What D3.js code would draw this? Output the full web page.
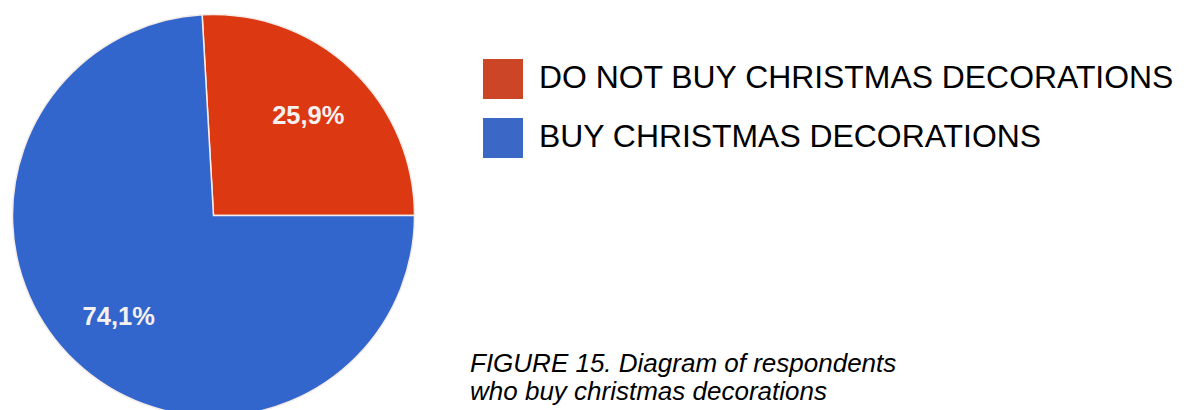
<!DOCTYPE html>
<html>
<head>
<meta charset="utf-8">
<script src="https://cdn.jsdelivr.net/npm/d3@7"></script>
<style>
  html, body { margin: 0; padding: 0; background: #ffffff; }
  svg { display: block; }
</style>
</head>
<body>
<svg id="chart" width="1187" height="410"></svg>
<script>
// ---- data ----
const categories = ["DO NOT BUY CHRISTMAS DECORATIONS", "BUY CHRISTMAS DECORATIONS"];
const values = [25.9, 74.1];
const sliceLabels = ["25,9%", "74,1%"];
const captionLines = ["FIGURE 15. Diagram of respondents", "who buy christmas decorations"];

// ---- styles ----
const pieColors = d3.scaleOrdinal().domain(categories).range(["#dc3912", "#3366cc"]);
const legendColors = d3.scaleOrdinal().domain(categories).range(["#cc4527", "#3b68c6"]);

const svg = d3.select("#chart");
const cx = 213.5, cy = 215.5, r = 201;

// first slice ends at 3 o'clock
const total = d3.sum(values);
const start = Math.PI / 2 - 2 * Math.PI * (values[0] / total);

const pie = d3.pie().sort(null).value(d => d.v)
  .startAngle(start).endAngle(start + 2 * Math.PI);
const data = pie(categories.map((c, i) => ({ c, v: values[i], label: sliceLabels[i] })));

const arc = d3.arc().innerRadius(0).outerRadius(r);
const labelArc = d3.arc().innerRadius(138).outerRadius(138);

const g = svg.append("g").attr("transform", `translate(${cx},${cy})`);
g.selectAll("path.slice").data(data).join("path")
  .attr("class", "slice")
  .attr("d", arc)
  .attr("fill", d => pieColors(d.data.c))
  .attr("stroke", "#f4ece8")
  .attr("stroke-width", 1.5);

g.selectAll("text.lbl").data(data).join("text")
  .attr("class", "lbl")
  .attr("transform", d => `translate(${labelArc.centroid(d)})`)
  .attr("text-anchor", "middle")
  .attr("dy", "0.36em")
  .attr("font-family", "'Liberation Sans', Arial, sans-serif")
  .attr("font-weight", "bold")
  .attr("font-size", 25.5)
  .attr("fill", "#f6f1f1")
  .text(d => d.data.label);

// ---- legend ----
const legend = svg.append("g").attr("transform", "translate(483,59)");
const items = legend.selectAll("g.item").data(categories).join("g")
  .attr("class", "item")
  .attr("transform", (d, i) => `translate(0,${i * 59})`);
items.append("rect")
  .attr("width", 40).attr("height", 40)
  .attr("fill", d => legendColors(d));
items.append("text")
  .attr("x", 56).attr("y", 29)
  .attr("font-family", "'Liberation Sans', Arial, sans-serif")
  .attr("font-size", 31.9)
  .attr("fill", "#000")
  .text(d => d);

// ---- caption ----
svg.append("g").selectAll("text").data(captionLines).join("text")
  .attr("x", 470)
  .attr("y", (d, i) => 372 + i * 28)
  .attr("font-family", "'Liberation Sans', Arial, sans-serif")
  .attr("font-style", "italic")
  .attr("font-size", 26)
  .attr("fill", "#000")
  .text(d => d);
</script>
</body>
</html>
